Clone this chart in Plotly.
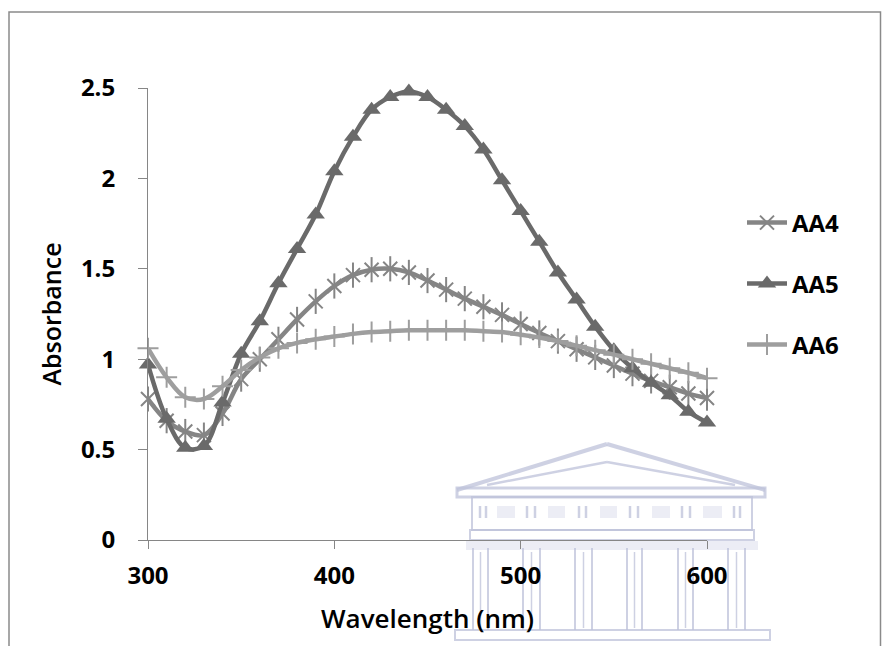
import plotly.graph_objects as go

# ---------------- data ----------------
wavelength = [300, 310, 320, 330, 340, 350, 360, 370, 380, 390, 400,
              410, 420, 430, 440, 450, 460, 470, 480, 490, 500,
              510, 520, 530, 540, 550, 560, 570, 580, 590, 600]
aa4 = [0.78, 0.66, 0.60, 0.58, 0.70, 0.89, 1.00, 1.11, 1.22, 1.32, 1.405,
       1.465, 1.495, 1.50, 1.48, 1.435, 1.385, 1.335, 1.29, 1.245, 1.195,
       1.145, 1.10, 1.055, 1.01, 0.965, 0.92, 0.88, 0.845, 0.81, 0.785]
aa5 = [0.97, 0.67, 0.51, 0.52, 0.76, 1.03, 1.21, 1.42, 1.61, 1.80, 2.04,
       2.23, 2.38, 2.45, 2.48, 2.45, 2.38, 2.29, 2.16, 1.99, 1.82,
       1.65, 1.48, 1.33, 1.18, 1.05, 0.95, 0.87, 0.80, 0.71, 0.65]
aa6 = [1.06, 0.90, 0.79, 0.78, 0.85, 0.94, 1.01, 1.06, 1.09, 1.11, 1.125,
       1.14, 1.15, 1.155, 1.16, 1.16, 1.16, 1.16, 1.155, 1.15, 1.135,
       1.12, 1.10, 1.075, 1.05, 1.025, 1.00, 0.975, 0.95, 0.925, 0.895]
series_names = ["AA4", "AA5", "AA6"]
y_ticks = [0, 0.5, 1, 1.5, 2, 2.5]
x_ticks = [300, 400, 500, 600]

# ---------------- styles ----------------
C4, C5, C6 = "#858585", "#6a6a6a", "#9e9e9e"
FONT = "Open Sans"
W, H = 888, 646
L, R, T, B = 148, 181, 88, 106
PW, PH = W - L - R, H - T - B


def px(x):
    return (x - L) / PW


def py(y):
    return (H - B - y) / PH


fig = go.Figure()
fig.add_trace(go.Scatter(x=wavelength, y=aa4, name=series_names[0], mode="lines+markers",
                         line=dict(color=C4, width=4.5, shape="spline", smoothing=1.0),
                         marker=dict(symbol="x-thin-open", size=14, color=C4,
                                     line=dict(color=C4, width=2)),
                         cliponaxis=False, legend="legend"))
fig.add_trace(go.Scatter(x=wavelength, y=aa4, mode="markers", showlegend=False,
                         marker=dict(symbol="line-ns-open", size=18, color=C4,
                                     line=dict(color=C4, width=2)),
                         cliponaxis=False, hoverinfo="skip"))
fig.add_trace(go.Scatter(x=wavelength, y=aa5, name=series_names[1], mode="lines+markers",
                         line=dict(color=C5, width=4.5, shape="spline", smoothing=1.0),
                         marker=dict(symbol="triangle-up", size=16, color=C5),
                         cliponaxis=False, legend="legend2"))
fig.add_trace(go.Scatter(x=wavelength, y=aa6, name=series_names[2], mode="lines+markers",
                         line=dict(color=C6, width=4.5, shape="spline", smoothing=1.0),
                         marker=dict(symbol="cross-thin-open", size=15, color=C6,
                                     line=dict(color=C6, width=2)),
                         cliponaxis=False, legend="legend3"))

# ---------------- watermark (decorative) ----------------
WM = "rgba(190,193,218,0.75)"
WF = "rgba(200,202,226,0.35)"
shapes = []


def line(x0, y0, x1, y1, w=3, c=WM):
    shapes.append(dict(type="line", xref="paper", yref="paper", layer="below",
                       x0=px(x0), y0=py(y0), x1=px(x1), y1=py(y1),
                       line=dict(color=c, width=w)))


def rect(x0, y0, x1, y1, w=2, fill="rgba(0,0,0,0)", c=WM):
    shapes.append(dict(type="rect", xref="paper", yref="paper", layer="below",
                       x0=px(x0), y0=py(y0), x1=px(x1), y1=py(y1),
                       line=dict(color=c, width=w), fillcolor=fill))


# pediment
line(457, 490, 607, 444, 4)
line(607, 444, 765, 490, 4)
line(487, 485, 607, 462, 2.5)
line(607, 462, 735, 485, 2.5)
rect(457, 488, 765, 497, 3)
# frieze
rect(472, 497, 752, 530, 2)
for a, b in [(497, 515), (548, 565), (600, 617), (652, 670), (703, 722)]:
    rect(a, 506, b, 518, 0, fill=WF)
for a, b in [(478, 488), (525, 537), (577, 588), (628, 640), (680, 692), (732, 742)]:
    line(a + 2, 506, a + 2, 518, 2.5)
    line(b - 2, 506, b - 2, 518, 2.5)
rect(470, 530, 754, 540, 2)
rect(466, 541, 758, 550, 0, fill=WF)
# columns
for a, b in [(473, 488), (523, 540), (575, 592), (627, 642), (678, 693), (728, 745)]:
    line(a, 548, a, 630, 2)
    line(b, 548, b, 630, 2)
    line((a + b) / 2, 552, (a + b) / 2, 628, 1.5)
rect(455, 630, 770, 640, 2)

# outer border
shapes.append(dict(type="path", xref="paper", yref="paper", layer="above",
                   path="M{},{} L{},{} L{},{} L{},{}".format(
                       px(9), py(H + 5), px(9), py(12), px(880.5), py(12), px(880.5), py(H + 5)),
                   line=dict(color="#8a8a8a", width=1.5)))


def legend_at(yc):
    return dict(x=px(742), y=py(yc), xanchor="left", yanchor="middle",
                bgcolor="rgba(0,0,0,0)", borderwidth=0,
                font=dict(family=FONT, size=24, color="#000000", weight="bold"),
                itemwidth=40)


fig.update_layout(
    width=W, height=H,
    margin=dict(l=L, r=R, t=T, b=B, pad=0),
    paper_bgcolor="white", plot_bgcolor="rgba(0,0,0,0)",
    shapes=shapes,
    showlegend=True,
    legend=legend_at(223),
    legend2=legend_at(284),
    legend3=legend_at(345),
    xaxis=dict(range=[300, 600], tickvals=x_ticks, showgrid=False, zeroline=False,
               showline=True, linecolor="#868686", linewidth=1,
               ticks="outside", ticklen=8, tickcolor="#868686",
               tickfont=dict(family=FONT, size=24, color="#000000", weight="bold"),
               ticklabelstandoff=6,
               title=dict(text="Wavelength (nm)", standoff=20,
                          font=dict(family=FONT, size=26, color="#000000", weight=600))),
    yaxis=dict(range=[0, 2.5], tickvals=y_ticks, showgrid=False, zeroline=False,
               showline=True, linecolor="#868686", linewidth=1,
               ticks="outside", ticklen=9, tickcolor="#868686",
               tickfont=dict(family=FONT, size=24, color="#000000", weight="bold"),
               ticklabelstandoff=18,
               title=dict(text="Absorbance", standoff=12,
                          font=dict(family=FONT, size=25, color="#000000", weight=600))),
)

fig.write_html("out.html")
